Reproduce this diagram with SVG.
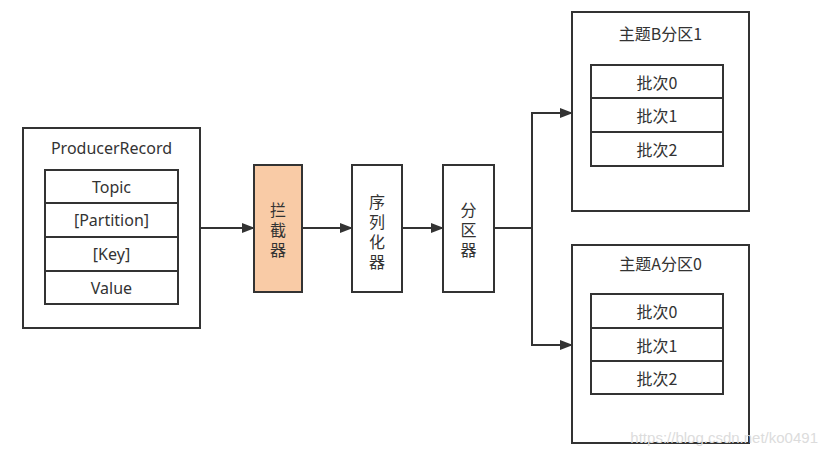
<svg xmlns="http://www.w3.org/2000/svg" width="828" height="453" viewBox="0 0 828 453">
<defs>
<marker id="ah" markerWidth="13" markerHeight="10" refX="12" refY="5" orient="auto" markerUnits="userSpaceOnUse">
<path d="M0,0 L13,5 L0,10 z" fill="#333"/>
</marker>
<style>
.box{fill:#fff;stroke:#333;stroke-width:2}
.t{font-family:"Noto Sans","Noto Sans CJK SC",sans-serif;font-size:16px;fill:#333;text-anchor:middle;dominant-baseline:central}
.c{font-family:"Noto Sans CJK SC","Noto Sans",sans-serif;font-size:16px;fill:#333;text-anchor:middle;dominant-baseline:central}
.v{font-family:"Noto Sans CJK SC",sans-serif;font-size:16px;fill:#333;text-anchor:middle;writing-mode:vertical-rl;letter-spacing:4px}
.ln{fill:none;stroke:#333;stroke-width:2}
</style>
</defs>
<rect width="828" height="453" fill="#fff"/>
<g id="producerRecord">
<rect class="box" x="23" y="128" width="177" height="200"/>
<text class="t" x="111.5" y="148">ProducerRecord</text>
<rect class="box" x="45" y="170" width="133" height="33"/>
<text class="t" x="111.5" y="187">Topic</text>
<rect class="box" x="45" y="203" width="133" height="34"/>
<text class="t" x="111.5" y="220">[Partition]</text>
<rect class="box" x="45" y="237" width="133" height="34"/>
<text class="t" x="111.5" y="254">[Key]</text>
<rect class="box" x="45" y="271" width="133" height="33"/>
<text class="t" x="111.5" y="288">Value</text>
</g>
<g id="interceptor">
<rect class="box" x="254" y="165" width="48" height="127" style="fill:#f9cba6"/>
<text class="v" x="278" y="232">拦截器</text>
</g>
<g id="serializer">
<rect class="box" x="352" y="165" width="50" height="127"/>
<text class="v" x="377" y="234">序列化器</text>
</g>
<g id="partitioner">
<rect class="box" x="443" y="165" width="51" height="127"/>
<text class="v" x="468.5" y="232">分区器</text>
</g>
<g id="topicB">
<rect class="box" x="572" y="12" width="177" height="199"/>
<text class="c" x="660.5" y="33">主题B分区1</text>
<rect class="box" x="591" y="65" width="132" height="33"/>
<text class="c" x="657" y="82">批次0</text>
<rect class="box" x="591" y="98" width="132" height="34"/>
<text class="c" x="657" y="115">批次1</text>
<rect class="box" x="591" y="132" width="132" height="34"/>
<text class="c" x="657" y="149">批次2</text>
</g>
<g id="topicA">
<rect class="box" x="572" y="245" width="177" height="198"/>
<text class="c" x="660.5" y="263">主题A分区0</text>
<rect class="box" x="591" y="294" width="132" height="34"/>
<text class="c" x="657" y="311">批次0</text>
<rect class="box" x="591" y="328" width="132" height="33"/>
<text class="c" x="657" y="345">批次1</text>
<rect class="box" x="591" y="361" width="132" height="33"/>
<text class="c" x="657" y="378">批次2</text>
</g>
<g id="connectors">
<path class="ln" d="M200,228 L254,228" marker-end="url(#ah)"/>
<path class="ln" d="M302,228 L352,228" marker-end="url(#ah)"/>
<path class="ln" d="M402,228 L443,228" marker-end="url(#ah)"/>
<path class="ln" d="M494,228 L532,228 L532,113 L572,113" marker-end="url(#ah)"/>
<path class="ln" d="M532,228 L532,345 L572,345" marker-end="url(#ah)"/>
</g>
<text x="818" y="437" style="font-family:'Liberation Sans',sans-serif;font-size:15px;fill:#dcdcdc;text-anchor:end;dominant-baseline:central">https://blog.csdn.net/ko0491</text>
</svg>
